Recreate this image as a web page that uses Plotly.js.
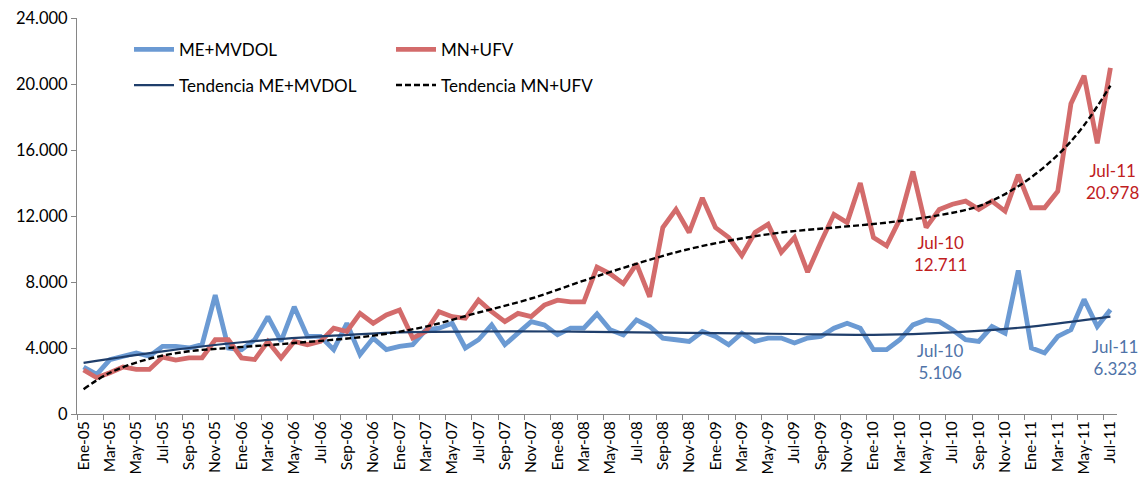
<!DOCTYPE html>
<html><head><meta charset="utf-8">
<script src="https://cdn.plot.ly/plotly-3.0.1.min.js"></script>
<style>html,body{margin:0;padding:0;background:#fff}#chart{width:1141px;height:484px}</style>
</head><body><div id="chart"></div>
<script>
const monthNames = ['Ene','Feb','Mar','Abr','May','Jun','Jul','Ago','Sep','Oct','Nov','Dic'];
const years = ['05','06','07','08','09','10','11'];
const lastLabel = 'Jul-11';

const meMvdol = [2850,2400,3300,3500,3700,3500,4100,4100,4000,4200,
  7200,4000,3900,4500,5900,4400,6500,4700,4700,3900,
  5500,3600,4600,3900,4100,4200,5100,5200,5500,4000,
  4500,5400,4200,4900,5600,5400,4800,5200,5200,6060,
  5100,4800,5700,5300,4600,4500,4400,5000,4700,4200,
  4900,4400,4600,4600,4300,4600,4700,5200,5500,5200,
  3900,3900,4500,5400,5700,5600,5106,4500,4400,5300,
  4900,8700,4000,3700,4700,5100,6950,5300,6323];

const mnUfv = [2670,2200,2500,2850,2700,2700,3450,3270,3400,3400,
  4500,4500,3400,3300,4400,3400,4400,4200,4400,5200,
  5000,6100,5500,6000,6300,4600,5000,6200,5900,5800,
  6900,6200,5600,6100,5900,6600,6900,6800,6800,8900,
  8500,7900,9100,7100,11300,12400,11000,13100,11300,10700,
  9600,11000,11500,9800,10700,8600,10400,12100,11600,14000,
  10700,10200,11800,14700,11300,12400,12711,12900,12400,12900,
  12300,14500,12500,12500,13500,18800,20500,16400,20978];

const trendMeIdx  = [0,6,12,18,24,30,36,42,48,54,60,66,72,78];
const trendMeVals = [3100,3800,4350,4700,4950,5000,5000,4950,4900,4850,4800,4950,5300,5900];

const trendMnIdx  = [0,2,5,8,11,16,22,26,30,34,39,45,49,53,57,61,65,68,71,74,76,78];
const trendMnVals = [1500,2500,3350,3800,4000,4300,4750,5300,6150,7000,8350,9800,10500,11000,11300,11600,12050,12600,13800,15700,17500,19900];

const seriesNames = ['ME+MVDOL','MN+UFV','Tendencia ME+MVDOL','Tendencia MN+UFV'];

// month labels
const months = [];
outer: for (const y of years) {
  for (const m of monthNames) {
    const lab = m + '-' + y;
    months.push(lab);
    if (lab === lastLabel) break outer;
  }
}
const idx = months.map((_, i) => i);
const tickIdx = idx.filter(i => i % 2 === 0);
const tickTxt = tickIdx.map(i => months[i]);
const boundaries = idx.filter(i => i % 2 === 0).map(i => i - 0.5);

const FONT = 'Lato, "Open Sans", sans-serif';

const traces = [
  {x: idx, y: meMvdol, name: seriesNames[0], type: 'scatter', mode: 'lines',
   line: {color: '#6b9ad3', width: 4.8}, legend: 'legend'},
  {x: idx, y: mnUfv, name: seriesNames[1], type: 'scatter', mode: 'lines',
   line: {color: '#d36b6b', width: 4.8}, legend: 'legend'},
  {x: trendMeIdx, y: trendMeVals, name: seriesNames[2], type: 'scatter', mode: 'lines',
   line: {color: '#1f3e6b', width: 2.2, shape: 'spline'}, legend: 'legend2'},
  {x: trendMnIdx, y: trendMnVals, name: seriesNames[3], type: 'scatter', mode: 'lines',
   line: {color: '#000000', width: 2.4, dash: '6px,3px', shape: 'spline'}, legend: 'legend2'}
];

const iJul10 = months.indexOf('Jul-10');
const iJul11 = months.indexOf('Jul-11');
const fmt = v => v.toLocaleString('de-DE');

const annotations = [
  {x: iJul10, y: mnUfv[iJul10], text: months[iJul10] + '<br>' + fmt(mnUfv[iJul10]), color: '#c0201e', xs: -12, ys: -26},
  {x: iJul10, y: meMvdol[iJul10], text: months[iJul10] + '<br>' + fmt(meMvdol[iJul10]), color: '#4f73a8', xs: -12, ys: -8},
  {x: iJul11, y: mnUfv[iJul11], text: months[iJul11] + '<br>' + fmt(mnUfv[iJul11]), color: '#c0201e', xs: 2, ys: -90},
  {x: iJul11, y: meMvdol[iJul11], text: months[iJul11] + '<br>' + fmt(meMvdol[iJul11]), color: '#4f73a8', xs: 5, ys: -24}
].map(a => ({x: a.x, y: a.y, xref: 'x', yref: 'y', text: a.text, showarrow: false,
  xanchor: 'center', yanchor: 'top', xshift: a.xs, yshift: a.ys, align: 'center',
  font: {family: FONT, size: 17, color: a.color}}));

const legendCommon = {orientation: 'h', xanchor: 'left', yanchor: 'top',
  font: {family: FONT, size: 17, color: '#000'}, entrywidth: 207, entrywidthmode: 'pixels',
  bgcolor: 'rgba(0,0,0,0)', traceorder: 'normal', itemwidth: 40};

const layout = {
  width: 1141, height: 484,
  margin: {l: 77, r: 24, t: 18, b: 70},
  paper_bgcolor: '#fff', plot_bgcolor: '#fff',
  separators: ',.',
  showlegend: true,
  font: {family: FONT, size: 15, color: '#000'},
  xaxis: {range: [-0.5, months.length - 0.5], tickmode: 'array', tickvals: tickIdx, ticktext: tickTxt,
    tickangle: -90, ticks: '', showgrid: false, zeroline: false, showline: true,
    linecolor: '#868686', linewidth: 1, tickfont: {family: FONT, size: 15.5, color: '#000'},
    minor: {tickmode: 'array', tickvals: boundaries, ticks: 'outside', ticklen: 5, tickcolor: '#868686', showgrid: false},
    fixedrange: true},
  yaxis: {range: [0, 24000], dtick: 4000, tickformat: ',d', ticks: 'outside', ticklen: 5,
    tickcolor: '#868686', showgrid: false, zeroline: false, showline: true, linecolor: '#868686',
    linewidth: 1, tickfont: {family: FONT, size: 16.5, color: '#000'}, fixedrange: true},
  legend: Object.assign({x: 0.05, y: 0.965}, legendCommon),
  legend2: Object.assign({x: 0.05, y: 0.875}, legendCommon),
  annotations: annotations
};

Plotly.newPlot('chart', traces, layout, {displayModeBar: false, staticPlot: true});
</script></body></html>
